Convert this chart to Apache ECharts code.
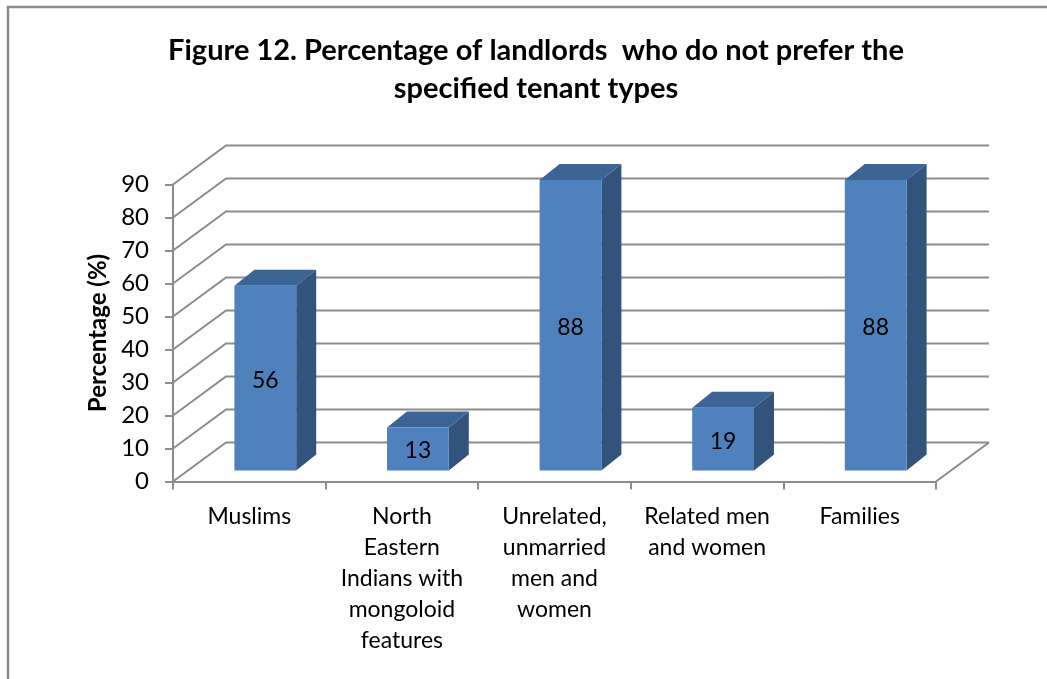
<!DOCTYPE html>
<html>
<head>
<meta charset="utf-8">
<script src="https://cdn.jsdelivr.net/npm/echarts@6/dist/echarts.min.js"></script>
<style>
  html, body { margin: 0; padding: 0; background: #ffffff; }
  #chart { width: 1047px; height: 679px; }
</style>
</head>
<body>
<div id="chart"></div>
<script>
// Tenant types and the share of landlords who do not prefer them
const categories = [
  'Muslims',
  'North\nEastern\nIndians with\nmongoloid\nfeatures',
  'Unrelated,\nunmarried\nmen and\nwomen',
  'Related men\nand women',
  'Families'
];
const percentages = [56, 13, 88, 19, 88];
const yTicks = [0, 10, 20, 30, 40, 50, 60, 70, 80, 90];

const FONT = 'Lato, "Liberation Sans", sans-serif';
const GRID_COLOR = '#8c8c8c';

// Oblique projection offsets (pixels) for the 3D look
const WALL_DEPTH = [53, -39];   // front edge -> back wall
const FACE_SHIFT = [16, -11];   // front edge -> bar front face
const BAR_DEPTH = [20, -16];    // bar front face -> bar back face
const BAR_SHARE = 0.405;        // bar width as a share of the category width

const chart = echarts.init(document.getElementById('chart'), null, { renderer: 'canvas' });

function renderWall(params, api) {
  const v = api.value(1);
  const a = api.coord([0, v]);
  const b = api.coord([categories.length, v]);
  const aBack = [a[0] + WALL_DEPTH[0], a[1] + WALL_DEPTH[1]];
  const bBack = [b[0] + WALL_DEPTH[0], b[1] + WALL_DEPTH[1]];
  const style = { stroke: GRID_COLOR, lineWidth: 2, fill: null };
  const children = [{ type: 'polyline', shape: { points: [a, aBack, bBack] }, style: style }];
  if (v === 0) {
    children.push({ type: 'line', shape: { x1: b[0], y1: b[1], x2: bBack[0], y2: bBack[1] }, style: style });
  }
  return { type: 'group', children: children };
}

function renderBar(params, api) {
  const i = api.value(0);
  const v = api.value(1);
  const catW = api.size([1, 0])[0];
  const w = catW * BAR_SHARE;
  const top = api.coord([i, v]);
  const base = api.coord([i, 0]);
  const cx = top[0] + FACE_SHIFT[0];
  const x1 = cx - w / 2, x2 = cx + w / 2;
  const yt = top[1] + FACE_SHIFT[1];
  const yb = base[1] + FACE_SHIFT[1];
  const dx = BAR_DEPTH[0], dy = BAR_DEPTH[1];
  return {
    type: 'group',
    children: [
      { type: 'polygon', shape: { points: [[x2, yt], [x2 + dx, yt + dy], [x2 + dx, yb + dy], [x2, yb]] },
        style: { fill: '#31537c' } },
      { type: 'polygon', shape: { points: [[x1, yt], [x2, yt], [x2 + dx, yt + dy], [x1 + dx, yt + dy]] },
        style: { fill: '#3c6596' } },
      { type: 'rect', shape: { x: x1, y: yt, width: w, height: yb - yt },
        style: { fill: '#4f81bd' } },
      { type: 'text', style: { x: cx, y: (yt + yb) / 2 + 2, text: String(v), fill: '#000000',
        font: '23px ' + FONT, align: 'center', verticalAlign: 'middle' } }
    ]
  };
}

const option = {
  backgroundColor: '#ffffff',
  animation: false,
  title: {
    text: 'Figure 12. Percentage of landlords  who do not prefer the\nspecified tenant types',
    left: 531,
    top: 27,
    textAlign: 'center',
    textStyle: { fontFamily: FONT, fontWeight: 'bold', fontSize: 29, lineHeight: 38, color: '#000000' }
  },
  graphic: [
    { type: 'polyline', shape: { points: [[8, 679], [8, 7], [1047, 7]] },
      style: { stroke: '#8a8a8a', lineWidth: 2.5, fill: null } }
  ],
  grid: { left: 173, right: 111, top: 184.5, bottom: 197.5 },
  xAxis: [
    {
      type: 'category',
      data: categories,
      boundaryGap: true,
      axisLine: { lineStyle: { color: GRID_COLOR, width: 2 } },
      axisTick: { show: true, length: 8, alignWithLabel: false, lineStyle: { color: GRID_COLOR, width: 2 } },
      axisLabel: { interval: 0, margin: 20, color: '#000000', fontFamily: FONT, fontSize: 23, lineHeight: 31 },
      splitLine: { show: false }
    },
    { type: 'value', min: 0, max: categories.length, show: false }
  ],
  yAxis: {
    type: 'value',
    min: 0,
    max: 90,
    interval: 10,
    name: 'Percentage (%)',
    nameLocation: 'middle',
    nameGap: 62,
    nameTextStyle: { fontFamily: FONT, fontWeight: 'bold', fontSize: 24, color: '#000000' },
    axisLine: { show: true, lineStyle: { color: GRID_COLOR, width: 2 } },
    axisTick: { show: true, length: 8, lineStyle: { color: GRID_COLOR, width: 2 } },
    axisLabel: { margin: 24, color: '#000000', fontFamily: FONT, fontSize: 24 },
    splitLine: { show: false }
  },
  series: [
    {
      type: 'custom',
      name: 'walls',
      xAxisIndex: 1,
      yAxisIndex: 0,
      clip: false,
      silent: true,
      z: 1,
      renderItem: renderWall,
      encode: { x: 0, y: 1 },
      data: yTicks.map(v => [0, v])
    },
    {
      type: 'custom',
      name: 'Percentage',
      xAxisIndex: 1,
      yAxisIndex: 0,
      clip: false,
      z: 3,
      renderItem: renderBar,
      encode: { x: 0, y: 1 },
      data: percentages.map((v, i) => [i + 0.5, v])
    }
  ]
};

chart.setOption(option);
</script>
</body>
</html>
